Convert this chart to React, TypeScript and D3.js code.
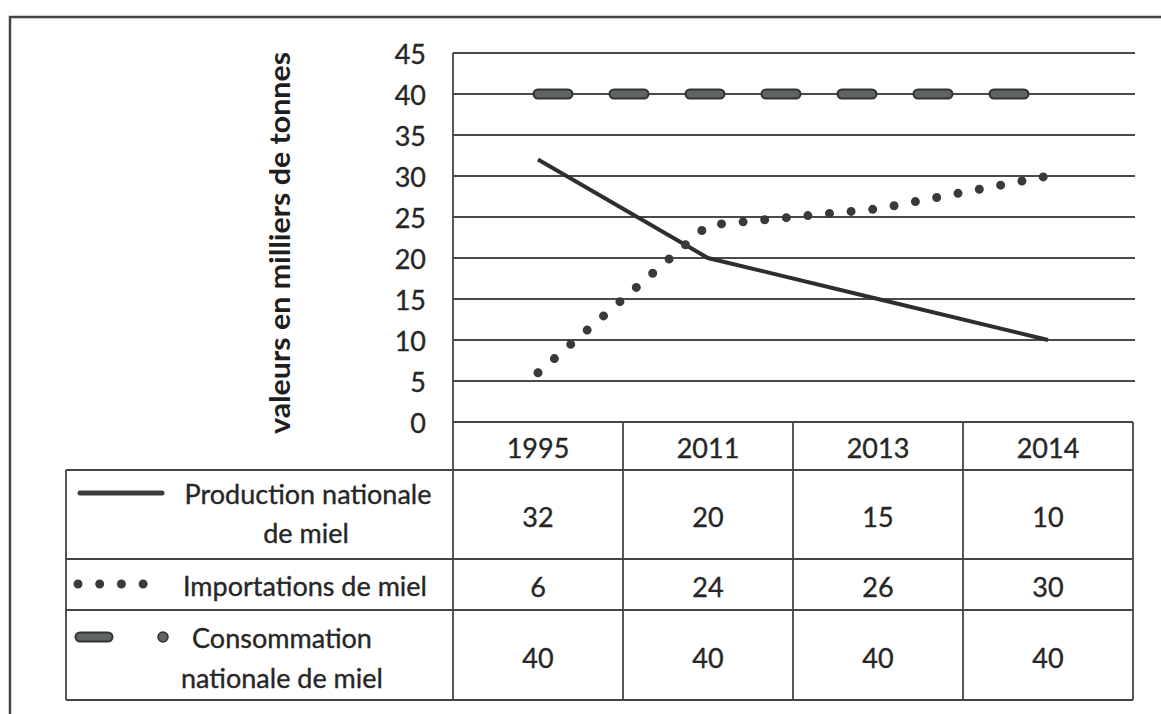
import React from "react";
import * as d3 from "d3";

const years = ["1995", "2011", "2013", "2014"];
const production = [32, 20, 15, 10];
const imports = [6, 24, 26, 30];
const consumption = [40, 40, 40, 40];
const yTicks = [0, 5, 10, 15, 20, 25, 30, 35, 40, 45];

const rows = [
  { label: ["Production nationale", "de miel"], values: production },
  { label: ["Importations de miel"], values: imports },
  { label: ["Consommation", "nationale de miel"], values: consumption },
];

const W = 1161;
const H = 714;
const FONT = "Lato, 'Open Sans', sans-serif";
const INK = "#262626";
const FS = 27;

const App = () => {
  const x = d3.scaleBand().domain(years).range([453, 1133]).padding(0);
  const y = d3.scaleLinear().domain([0, 45]).range([422, 53]);
  const cx = (d: string) => (x(d) as number) + x.bandwidth() / 2;

  const line = d3
    .line<number>()
    .x((_, i) => cx(years[i]))
    .y((d) => y(d));

  // table row boundaries
  const rowY = [470, 559, 610, 700];
  const legendLeft = 66;

  const txt = (s: string, tx: number, ty: number, key?: string) => (
    <text
      key={key}
      x={tx}
      y={ty}
      textAnchor="middle"
      dominantBaseline="central"
      fontSize={FS}
      fill={INK}
      stroke={INK}
      strokeWidth={0.35}
    >
      {s}
    </text>
  );

  return (
    <svg
      width={W}
      height={H}
      style={{ position: "absolute", left: 0, top: 0, background: "#fff" }}
      fontFamily={FONT}
    >
      <rect width={W} height={H} fill="#fff" />
      {/* outer frame */}
      <path d={`M${W},17 H10 V${H}`} fill="none" stroke="#444" strokeWidth={2.5} />

      {/* y axis title */}
      <text
        transform="translate(290,243) rotate(-90)"
        textAnchor="middle"
        fontWeight="bold"
        fontSize={29}
        fill="#1e1e1e"
        textLength={382}
        lengthAdjust="spacingAndGlyphs"
      >
        valeurs en milliers de tonnes
      </text>

      {/* gridlines + tick labels */}
      {yTicks.map((t) => (
        <g key={t}>
          {t > 0 && (
            <line x1={453} x2={1135} y1={y(t)} y2={y(t)} stroke="#4a4a4a" strokeWidth={1.8} />
          )}
          <text
            x={426}
            y={y(t)}
            textAnchor="end"
            dominantBaseline="central"
            fontSize={FS}
            fill={INK}
            stroke={INK}
            strokeWidth={0.35}
          >
            {t}
          </text>
        </g>
      ))}
      <line x1={453} x2={453} y1={53} y2={rowY[0]} stroke="#444" strokeWidth={1.8} />

      {/* table: header */}
      <line x1={453} x2={1133} y1={y(0)} y2={y(0)} stroke="#444" strokeWidth={1.8} />
      {years.map((yr) => txt(yr, cx(yr), (y(0) + rowY[0]) / 2 + 1, yr))}
      {/* table grid */}
      {rowY.map((ry, i) => (
        <line key={"h" + i} x1={legendLeft} x2={1133} y1={ry} y2={ry} stroke="#444" strokeWidth={1.8} />
      ))}
      <line x1={legendLeft} x2={legendLeft} y1={rowY[0]} y2={rowY[3]} stroke="#444" strokeWidth={1.8} />
      {years.map((yr) => (
        <line
          key={"v" + yr}
          x1={(x(yr) as number) + x.bandwidth()}
          x2={(x(yr) as number) + x.bandwidth()}
          y1={y(0)}
          y2={rowY[3]}
          stroke="#444"
          strokeWidth={1.8}
        />
      ))}
      <line x1={453} x2={453} y1={rowY[0]} y2={rowY[3]} stroke="#444" strokeWidth={1.8} />

      {/* table values */}
      {rows.map((r, ri) =>
        r.values.map((v, i) =>
          txt(String(v), cx(years[i]), (rowY[ri] + rowY[ri + 1]) / 2 + 2, ri + "-" + i)
        )
      )}

      {/* legend labels */}
      {txt(rows[0].label[0], 308, 493)}
      {txt(rows[0].label[1], 306, 532)}
      {txt(rows[1].label[0], 305, 585)}
      {txt(rows[2].label[0], 282, 637)}
      {txt(rows[2].label[1], 282, 677)}

      {/* legend keys */}
      <line x1={80} x2={162} y1={493} y2={493} stroke="#3a3a3a" strokeWidth={5} strokeLinecap="round" />
      <line
        x1={78}
        x2={144}
        y1={584}
        y2={584}
        stroke="#3a3a3a"
        strokeWidth={9}
        strokeLinecap="round"
        strokeDasharray="0 21.7"
      />
      <line x1={80} x2={108} y1={637} y2={637} stroke="#333" strokeWidth={11} strokeLinecap="round" />
      <line x1={80} x2={108} y1={637} y2={637} stroke="#5f6661" strokeWidth={7} strokeLinecap="round" />
      <circle cx={163} cy={637} r={5} fill="#5f6661" stroke="#333" strokeWidth={1.5} />

      {/* series */}
      <path d={line(consumption) as string} fill="none" stroke="#333" strokeWidth={11} strokeLinecap="round" strokeDasharray="30 46" />
      <path d={line(consumption) as string} fill="none" stroke="#5f6661" strokeWidth={7} strokeLinecap="round" strokeDasharray="30 46" />
      <path d={line(production) as string} fill="none" stroke="#2e2e2e" strokeWidth={4} />
      <path
        d={line(imports) as string}
        fill="none"
        stroke="#3a3a3a"
        strokeWidth={9}
        strokeLinecap="round"
        strokeDasharray="0 21.7"
      />
    </svg>
  );
};

export default App;
